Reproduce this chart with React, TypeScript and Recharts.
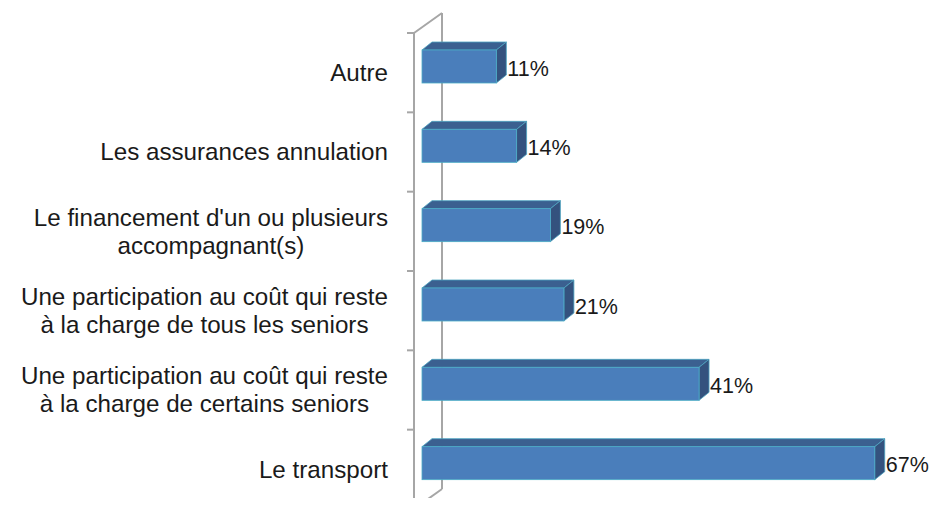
import React from 'react';
import * as Recharts from 'recharts';
import { BarChart, Bar, XAxis, YAxis, LabelList } from 'recharts';

const categories = [
  'Autre',
  'Les assurances annulation',
  "Le financement d'un ou plusieurs\naccompagnant(s)",
  'Une participation au coût qui reste\nà la charge de tous les seniors',
  'Une participation au coût qui reste\nà la charge de certains seniors',
  'Le transport',
];
const values = [11, 14, 19, 21, 41, 67];
const valueLabels = ['11%', '14%', '19%', '21%', '41%', '67%'];

const data = categories.map((name, i) => ({ name, value: values[i], label: valueLabels[i] }));

const W = 930;
const H = 504;
const YW = 414;
const MARGIN = { top: 25, right: 43, bottom: 3, left: 0 };
const FONT = '"Liberation Sans", Arial, sans-serif';
const FS = 24.2;
const VFS = 21.5;
const LH = 28;
const DX = 10; // depth of bars
const DY = 8;

let ctx: CanvasRenderingContext2D | null = null;
const measure = (s: string) => {
  if (!ctx) ctx = document.createElement('canvas').getContext('2d');
  if (!ctx) return s.length * FS * 0.5;
  ctx.font = `${FS}px ${FONT}`;
  return ctx.measureText(s).width;
};

const CategoryTick = (props: any) => {
  const { x, y, payload } = props;
  const lines = String(payload.value).split('\n');
  const w = Math.max(...lines.map(measure));
  const cx = x - 34 - w / 2;
  const y0 = y - ((lines.length - 1) * LH) / 2;
  return (
    <g>
      {lines.map((l, i) => (
        <text
          key={i}
          x={cx}
          y={y0 + i * LH}
          dy="0.35em"
          textAnchor="middle"
          fill="#1a1a1a"
          fontSize={FS}
          fontFamily={FONT}
        >
          {l}
        </text>
      ))}
    </g>
  );
};

const Bar3D = (props: any) => {
  const { x, y, width, height } = props;
  const top = y - 6;
  const r = x + width;
  const b = top + height;
  return (
    <g>
      <polygon
        points={`${x},${top} ${r},${top} ${r + DX},${top - DY} ${x + DX},${top - DY}`}
        fill="#3B6090"
        stroke="#4BA3C0"
        strokeWidth={0.8}
      />
      <polygon
        points={`${r},${top} ${r + DX},${top - DY} ${r + DX},${b - DY} ${r},${b}`}
        fill="#34527E"
        stroke="#4BA3C0"
        strokeWidth={0.8}
      />
      <rect x={x} y={top} width={width} height={height} fill="#4A7EBB" stroke="#4BACC6" strokeWidth={0.8} />
    </g>
  );
};

const ValueLabel = (props: any) => {
  const { x, y, width, height, value } = props;
  return (
    <text
      x={x + width + DX + 1}
      y={y - 6 + height / 2 + 2}
      dominantBaseline="central"
      fill="#1a1a1a"
      fontSize={VFS}
      fontFamily={FONT}
    >
      {value}
    </text>
  );
};

const Wall = () => {
  const usePA = (Recharts as any).usePlotArea;
  const area = usePA ? usePA() : null;
  const px = area ? area.x : MARGIN.left + YW;
  const py = area ? area.y : MARGIN.top;
  const ph = area ? area.height : H - MARGIN.top - MARGIN.bottom;
  const fx = px - 8;
  const bx = px + 20;
  const bottom = py + ph;
  const n = categories.length;
  const c = '#A6A6A6';
  return (
    <g>
      <line x1={fx} y1={py} x2={fx} y2={bottom} stroke={c} strokeWidth={2} />
      <line x1={bx} y1={py - 20} x2={bx} y2={bottom - 20} stroke={c} strokeWidth={2} />
      <line x1={fx} y1={py} x2={bx} y2={py - 20} stroke={c} strokeWidth={2} />
      <line x1={bx} y1={bottom - 20} x2={fx} y2={bottom} stroke={c} strokeWidth={2} />
      {Array.from({ length: n + 1 }, (_, i) => (
        <line key={i} x1={fx - 7} y1={py + (i * ph) / n} x2={fx} y2={py + (i * ph) / n} stroke={c} strokeWidth={2} />
      ))}
    </g>
  );
};

export default function App() {
  return (
    <div style={{ width: W, height: 498, marginBottom: -8, overflow: 'hidden' }}>
      <BarChart
        width={W}
        height={H}
        data={data}
        layout="vertical"
        margin={MARGIN}
        barSize={33}
        style={{ overflow: 'visible' }}
      >
        <XAxis type="number" domain={[0, 70]} hide />
        <YAxis
          type="category"
          dataKey="name"
          width={YW}
          axisLine={false}
          tickLine={false}
          tickSize={0}
          tickMargin={0}
          interval={0}
          tick={<CategoryTick />}
        />
        <Wall />
        <Bar dataKey="value" shape={<Bar3D />} isAnimationActive={false}>
          <LabelList dataKey="label" content={<ValueLabel />} />
        </Bar>
      </BarChart>
    </div>
  );
}
